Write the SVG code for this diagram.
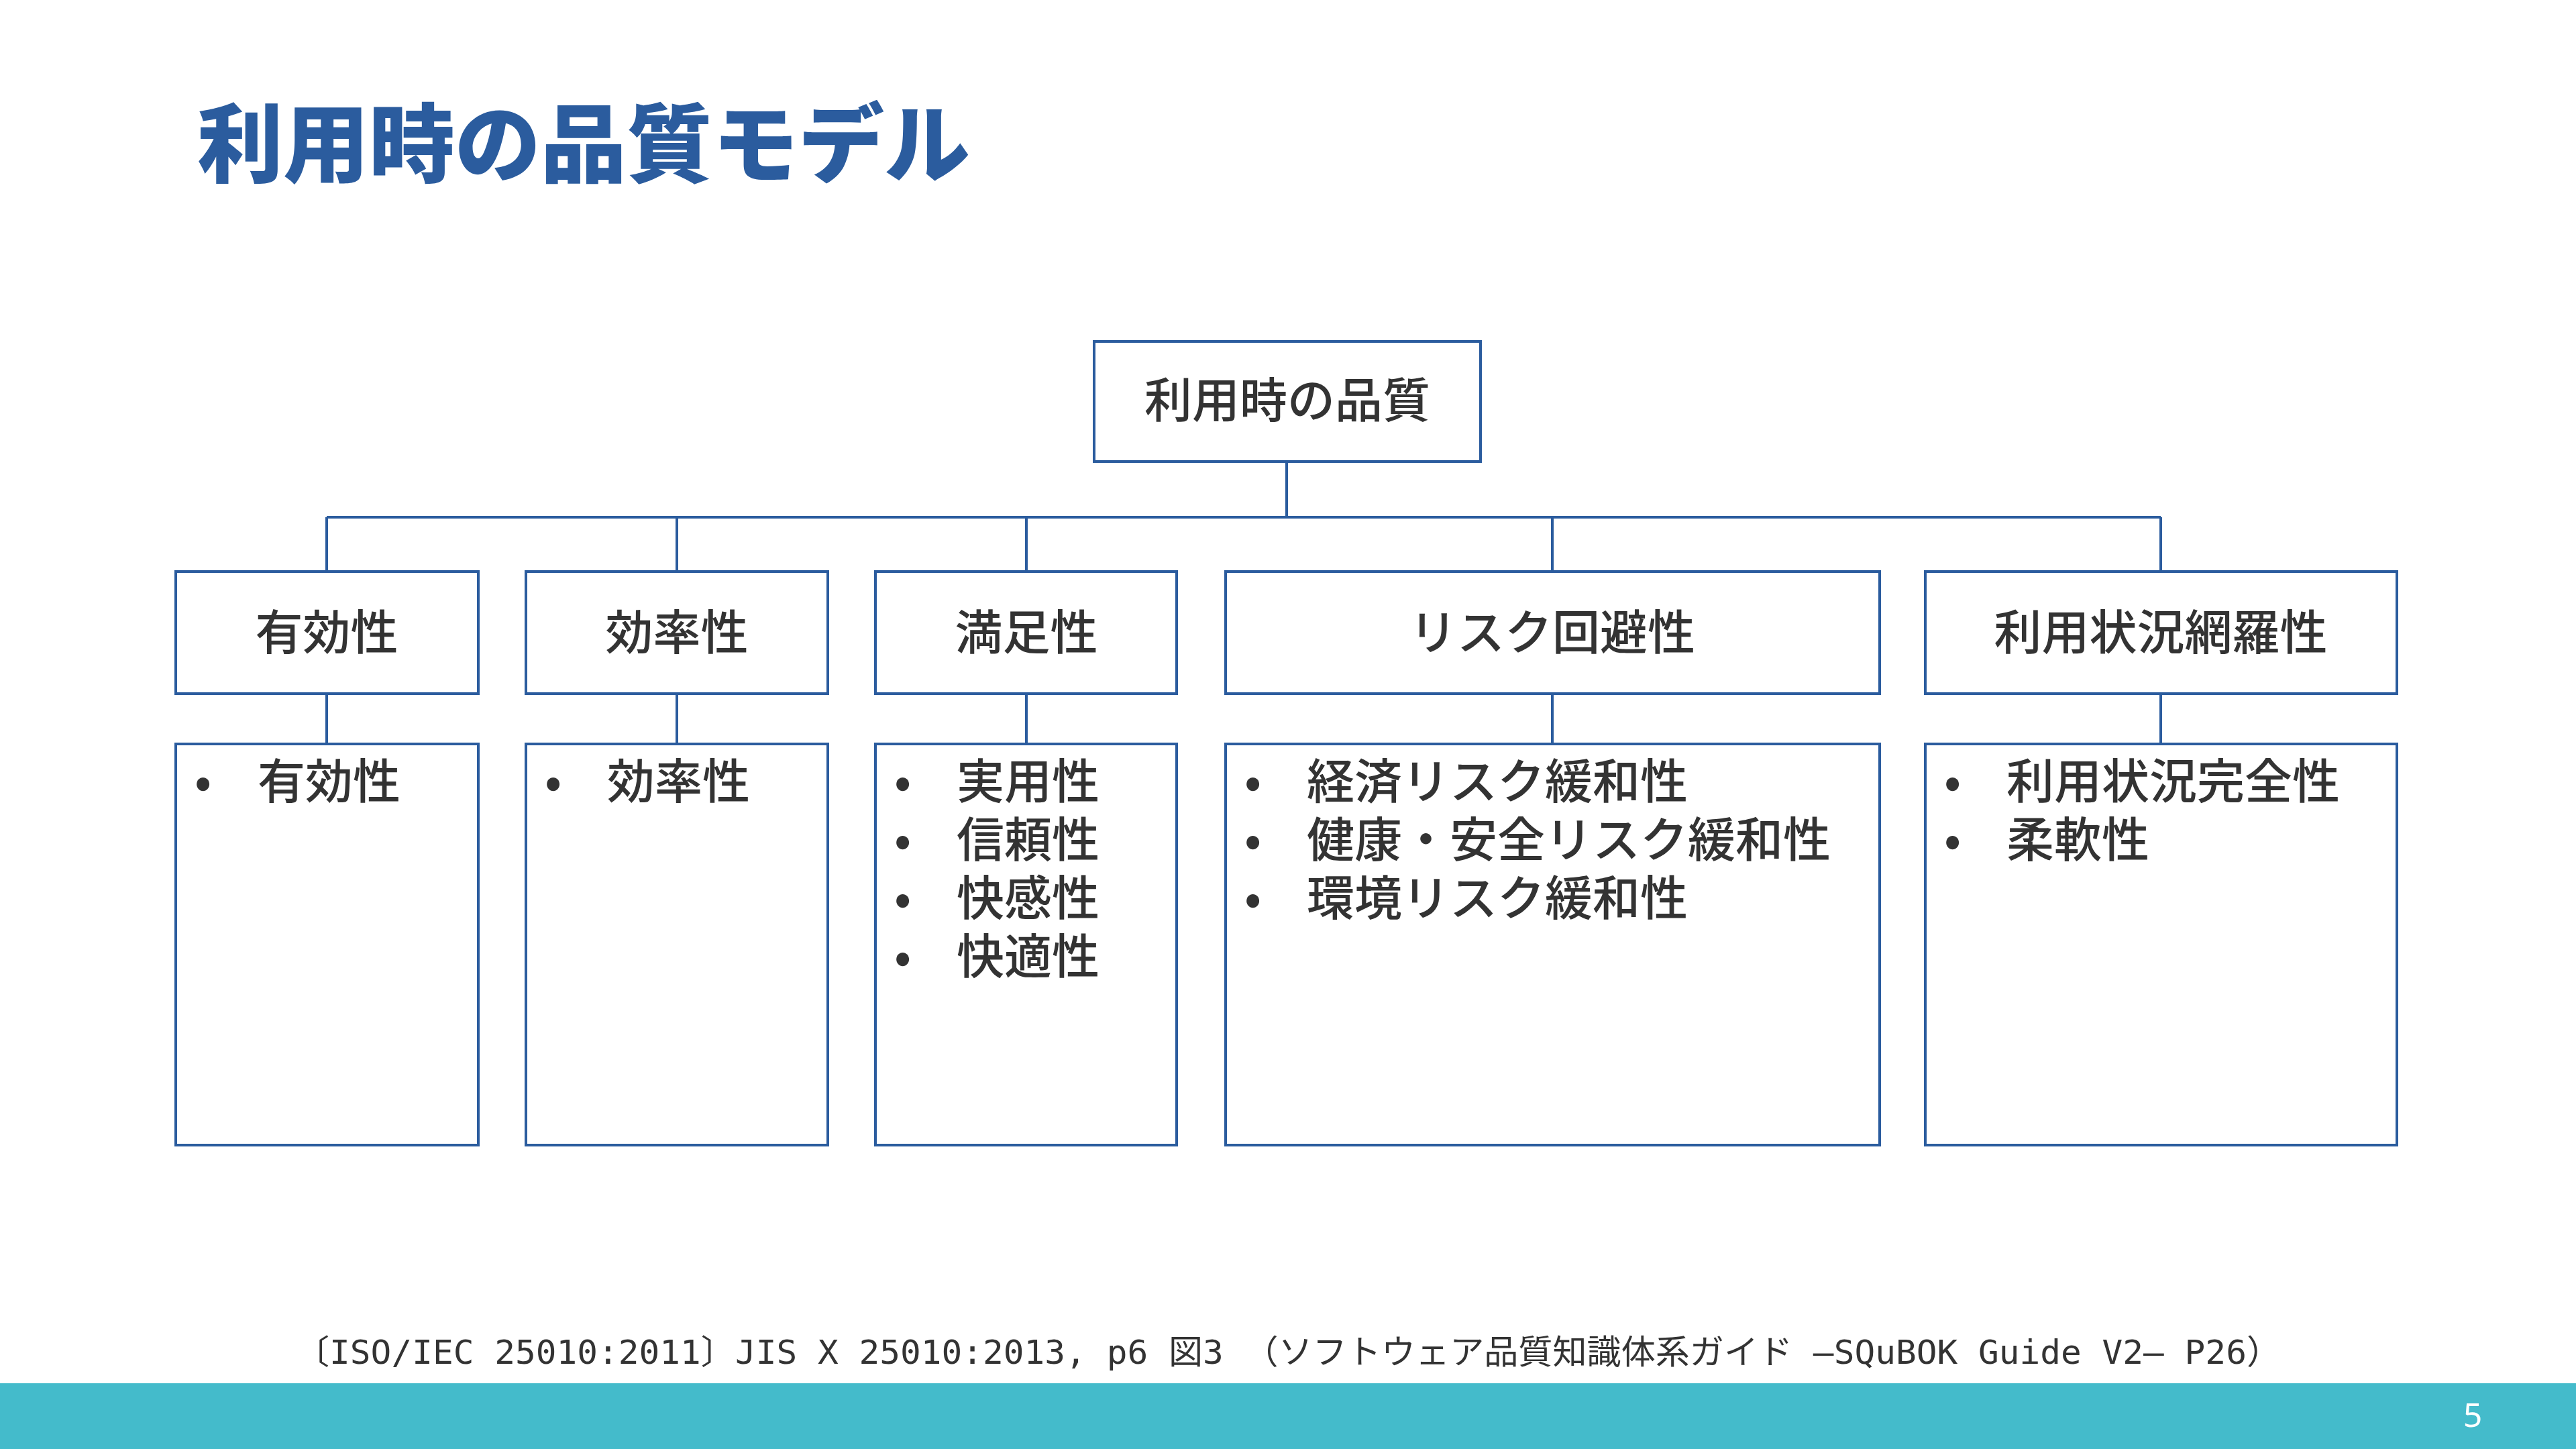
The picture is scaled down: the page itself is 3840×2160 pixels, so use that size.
<svg xmlns="http://www.w3.org/2000/svg" width="3840" height="2160" viewBox="0 0 3840 2160">
<style>
.b{fill:#fff;stroke:#2B5C9E;stroke-width:4}
.t{font-family:"Noto Sans CJK JP","Noto Sans",sans-serif;font-size:71px;fill:#333;font-weight:500}
.c{text-anchor:middle}
.l{fill:none;stroke:#2B5C9E;stroke-width:4}
</style>
<rect width="3840" height="2160" fill="#fff"/>
<text x="294" y="262" font-family="Noto Sans CJK JP,sans-serif" font-weight="900" font-size="128" fill="#2B5C9E">利用時の品質モデル</text>
<g id="connectors">
<path class="l" d="M1918 688V771M487 771H3221M487 771V852M1009 771V852M1530 771V852M2314 771V852M3221 771V852M487 1034V1109M1009 1034V1109M1530 1034V1109M2314 1034V1109M3221 1034V1109"/>
</g>
<g id="root"><rect class="b" x="1631" y="509" width="576" height="179"/><text class="t c" x="1919" y="622">利用時の品質</text></g>
<g id="c1"><rect class="b" x="262" y="852" width="451" height="182"/><text class="t c" x="487" y="968">有効性</text></g>
<g id="c2"><rect class="b" x="784" y="852" width="450" height="182"/><text class="t c" x="1009" y="968">効率性</text></g>
<g id="c3"><rect class="b" x="1305" y="852" width="449" height="182"/><text class="t c" x="1530" y="968">満足性</text></g>
<g id="c4"><rect class="b" x="1827" y="852" width="975" height="182"/><text class="t c" x="2314" y="968">リスク回避性</text></g>
<g id="c5"><rect class="b" x="2870" y="852" width="703" height="182"/><text class="t c" x="3221" y="968">利用状況網羅性</text></g>
<g id="d1"><rect class="b" x="262" y="1109" width="451" height="598"/><text class="t" x="290" y="1190">•</text><text class="t" x="384" y="1190">有効性</text></g>
<g id="d2"><rect class="b" x="784" y="1109" width="450" height="598"/><text class="t" x="812" y="1190">•</text><text class="t" x="905" y="1190">効率性</text></g>
<g id="d3"><rect class="b" x="1305" y="1109" width="449" height="598"/>
<text class="t" x="1333" y="1190">•</text><text class="t" x="1426" y="1190">実用性</text>
<text class="t" x="1333" y="1277">•</text><text class="t" x="1426" y="1277">信頼性</text>
<text class="t" x="1333" y="1364">•</text><text class="t" x="1426" y="1364">快感性</text>
<text class="t" x="1333" y="1451">•</text><text class="t" x="1426" y="1451">快適性</text></g>
<g id="d4"><rect class="b" x="1827" y="1109" width="975" height="598"/>
<text class="t" x="1855" y="1190">•</text><text class="t" x="1948" y="1190">経済リスク緩和性</text>
<text class="t" x="1855" y="1277">•</text><text class="t" x="1948" y="1277">健康・安全リスク緩和性</text>
<text class="t" x="1855" y="1364">•</text><text class="t" x="1948" y="1364">環境リスク緩和性</text></g>
<g id="d5"><rect class="b" x="2870" y="1109" width="703" height="598"/>
<text class="t" x="2898" y="1190">•</text><text class="t" x="2991" y="1190">利用状況完全性</text>
<text class="t" x="2898" y="1277">•</text><text class="t" x="2991" y="1277">柔軟性</text></g>
<text x="440" y="2033" textLength="2960" lengthAdjust="spacingAndGlyphs" font-family="DejaVu Sans Mono,Noto Sans CJK JP,monospace" font-size="50" fill="#333">〔ISO/IEC 25010:2011〕JIS X 25010:2013, p6 図3 （ソフトウェア品質知識体系ガイド –SQuBOK Guide V2– P26）</text>
<rect x="0" y="2062" width="3840" height="98" fill="#44BBCB"/>
<text x="3686" y="2127" text-anchor="middle" font-family="Noto Sans,sans-serif" font-size="50" fill="#fff">5</text>
</svg>
